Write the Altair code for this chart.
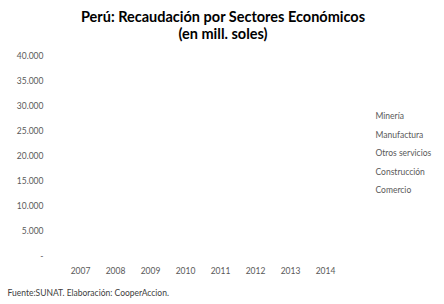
import altair as alt
import pandas as pd

years = ["2007", "2008", "2009", "2010", "2011", "2012", "2013", "2014"]
sectors = ["Minería", "Manufactura", "Otros servicios", "Construcción", "Comercio"]
# No bars are visible in the reference: every series reads as zero
mineria = [0, 0, 0, 0, 0, 0, 0, 0]
manufactura = [0, 0, 0, 0, 0, 0, 0, 0]
otros = [0, 0, 0, 0, 0, 0, 0, 0]
construccion = [0, 0, 0, 0, 0, 0, 0, 0]
comercio = [0, 0, 0, 0, 0, 0, 0, 0]
y_ticks = [0, 5000, 10000, 15000, 20000, 25000, 30000, 35000, 40000]

series = [mineria, manufactura, otros, construccion, comercio]
rows = []
for s, vals in zip(sectors, series):
    for yr, v in zip(years, vals):
        rows.append({"Año": yr, "Sector": s, "Valor": v})
df = pd.DataFrame(rows)

FONT = "Lato"
GRAY = "#595959"
FS = 8.5

chart = alt.Chart(df).mark_bar(strokeWidth=0).encode(
    x=alt.X("Año:N", sort=years,
            scale=alt.Scale(paddingInner=0.4, paddingOuter=0.2),
            axis=alt.Axis(labelAngle=0, domain=False, ticks=False, grid=False,
                          labelFont=FONT, labelFontSize=FS, labelColor=GRAY,
                          labelPadding=11,
                          title="Fuente:SUNAT. Elaboración: CooperAccion.",
                          titleFont=FONT, titleFontSize=FS, titleFontWeight="normal",
                          titleColor="#404040", titleAnchor="start", titleAlign="left",
                          titleX=-56, titleY=37, titleBaseline="middle")),
    y=alt.Y("Valor:Q", stack="zero",
            scale=alt.Scale(domain=[0, 40000], nice=False),
            axis=alt.Axis(values=y_ticks, domain=False, ticks=False, grid=False,
                          labelFont=FONT, labelFontSize=FS, labelColor=GRAY,
                          labelPadding=20, title=None,
                          labelExpr="datum.value == 0 ? '-' : replace(format(datum.value, ','), ',', '.')")),
    color=alt.Color("Sector:N", sort=sectors,
                    scale=alt.Scale(domain=sectors,
                                    range=["#4472c4", "#ed7d31", "#a5a5a5", "#ffc000", "#5b9bd5"]),
                    legend=alt.Legend(title=None, orient="none", legendX=304, legendY=57,
                                      symbolOpacity=0, symbolSize=1, symbolStrokeWidth=0,
                                      labelFont=FONT, labelFontSize=FS, labelColor=GRAY,
                                      labelOffset=0, rowPadding=9.5, padding=0)),
    order=alt.Order("Sector:N"),
).properties(
    width=280,
    height=200,
    title=alt.TitleParams(
        text=["Perú: Recaudación por Sectores Económicos", "(en mill. soles)"],
        font=FONT, fontSize=14.5, fontWeight="bold", color="#000000",
        anchor="middle", frame="group", dx=20, offset=8.5, lineHeight=17,
    ),
    autosize=alt.AutoSizeParams(type="none"),
    padding={"left": 63, "top": 55, "right": 101, "bottom": 49},
).configure_view(stroke=None)

chart.save("out.html", embed_options={"renderer": "svg", "actions": False})
